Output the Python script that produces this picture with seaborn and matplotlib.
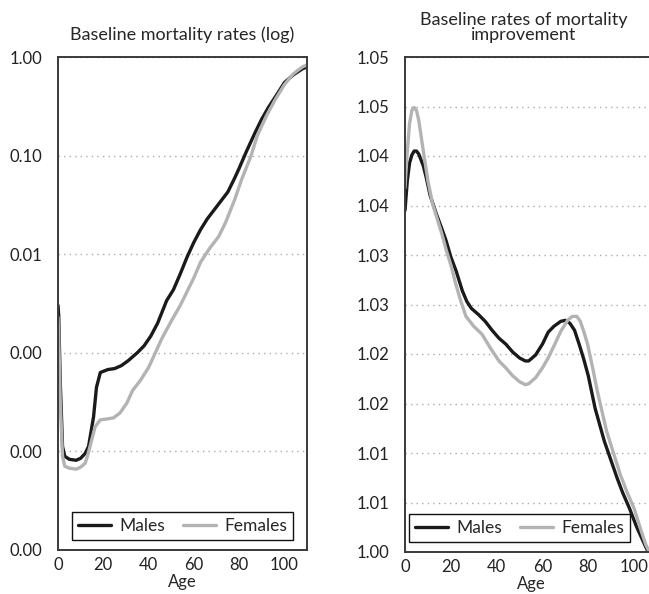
import numpy as np
import pandas as pd
import matplotlib
matplotlib.use("Agg")
import matplotlib.pyplot as plt
from matplotlib.ticker import FuncFormatter, NullLocator
import seaborn as sns

# --- data ---
# left panel: baseline mortality rates (stored as log10 of the rate)
age_m_log = [0, 0.3, 1, 2, 3, 5, 8, 10, 12, 13.5, 15.7, 17, 18.7, 22, 25, 28, 31, 35, 38, 41, 44,
             48, 51, 54, 57, 60, 63, 66, 69, 72, 75, 78, 80, 83, 87, 90, 93, 97, 100, 104, 108, 110]
males_log10 = [-2.52, -2.62, -3.3, -3.95, -4.05, -4.08, -4.09, -4.07, -4.02, -3.95, -3.65, -3.35,
               -3.2, -3.17, -3.16, -3.13, -3.08, -3.0, -2.93, -2.83, -2.70, -2.47, -2.36, -2.2,
               -2.03, -1.88, -1.75, -1.64, -1.55, -1.46, -1.37, -1.23, -1.13, -0.97, -0.77, -0.63,
               -0.51, -0.37, -0.26, -0.18, -0.12, -0.10]

age_f_log = [0, 0.3, 1, 2, 3, 5, 8, 10, 12, 13, 16.4, 18.7, 22, 24.5, 27.4, 30.4, 33, 36.4, 40, 43,
             46, 50, 54, 57, 60, 63, 67, 71, 74, 78, 81, 85.3, 88, 92, 96, 100, 104, 108, 110]
females_log10 = [-2.64, -2.8, -3.5, -4.05, -4.15, -4.17, -4.18, -4.16, -4.12, -4.05, -3.75, -3.68,
                 -3.67, -3.66, -3.61, -3.51, -3.38, -3.28, -3.15, -3.0, -2.85, -2.68, -2.52, -2.38,
                 -2.24, -2.08, -1.94, -1.82, -1.68, -1.45, -1.25, -1.0, -0.8, -0.6, -0.43, -0.28,
                 -0.17, -0.10, -0.08]

# right panel: baseline rates of mortality improvement
age_m_imp = [0, 1, 2, 3, 4, 5, 6, 8, 9.3, 11, 13.6, 16, 18, 20, 22.3, 25, 27, 29, 32, 35, 38, 41,
             44, 47, 50, 52.5, 54, 57, 60, 62.5, 65, 68, 70, 72, 74, 76, 78, 80, 83, 87, 90, 92.7,
             95, 98, 101, 104.7, 107, 110]
males_imp = [1.0345, 1.0375, 1.0393, 1.0401, 1.0405, 1.0405, 1.0402, 1.0390, 1.0378, 1.0360,
             1.0342, 1.0327, 1.0314, 1.0298, 1.0284, 1.0264, 1.0253, 1.0246, 1.0240, 1.0233,
             1.0224, 1.0216, 1.0210, 1.0202, 1.0196, 1.0193, 1.0193, 1.0199, 1.0210, 1.0222,
             1.0228, 1.0233, 1.0234, 1.0231, 1.0224, 1.0210, 1.0195, 1.0178, 1.0145, 1.0112,
             1.0092, 1.0074, 1.0060, 1.0044, 1.0026, 1.0007, 0.9996, 0.9980]

age_f_imp = [0, 1, 2, 3, 4, 5, 6, 8, 10, 12, 13.6, 16, 18, 20, 22, 24, 26.6, 30, 33.6, 37, 41, 44,
             47, 50, 52.5, 54, 57, 60, 62.5, 65, 68, 71, 73, 75, 76.5, 78, 79.7, 82, 84, 86, 88,
             91, 94, 97, 100, 103, 105, 107, 110]
females_imp = [1.0368, 1.0405, 1.0433, 1.0446, 1.0449, 1.0446, 1.0436, 1.0405, 1.0375, 1.0352,
               1.0340, 1.0322, 1.0305, 1.0290, 1.0272, 1.0256, 1.0238, 1.0228, 1.0220, 1.0207,
               1.0193, 1.0186, 1.0178, 1.0172, 1.0169, 1.0170, 1.0176, 1.0186, 1.0196, 1.0208,
               1.0223, 1.0234, 1.0238, 1.0238, 1.0233, 1.0223, 1.0210, 1.0185, 1.0162, 1.0142,
               1.0122, 1.0100, 1.0078, 1.0060, 1.0044, 1.0022, 1.0008, 0.9998, 0.9980]

x_ticks = [0, 20, 40, 60, 80, 100]
log_ticks = [1e-5, 1e-4, 1e-3, 1e-2, 1e-1, 1.0]
imp_ticks = [1.000, 1.005, 1.010, 1.015, 1.020, 1.025, 1.030, 1.035, 1.040, 1.045, 1.050]

sns.set_style("white")
plt.rcParams['font.family'] = ['Lato', 'DejaVu Sans']
plt.rcParams['font.size'] = 12

colors = {'Males': '#1a1a1a', 'Females': '#b3b3b3'}


def two_dp(v, pos=None):
    # half-up rounding like a spreadsheet (1.045 -> 1.05)
    return f"{np.floor(float(v) * 100 + 0.5 + 1e-6) / 100:.2f}"


def long_frame(ages_m, vals_m, ages_f, vals_f):
    m = pd.DataFrame({'Age': ages_m, 'value': vals_m, 'Sex': 'Males'})
    f = pd.DataFrame({'Age': ages_f, 'value': vals_f, 'Sex': 'Females'})
    return pd.concat([m, f], ignore_index=True)


df_log = long_frame(age_m_log, 10 ** np.array(males_log10), age_f_log, 10 ** np.array(females_log10))
df_imp = long_frame(age_m_imp, males_imp, age_f_imp, females_imp)

fig = plt.figure(figsize=(6.49, 5.94), dpi=100)
ax1 = fig.add_axes([58 / 649, 44 / 594, 249 / 649, 493 / 594])
ax2 = fig.add_axes([405 / 649, 42 / 594, 252 / 649, 495 / 594])


def style_axis(ax, legend_x=0.5):
    for s in ax.spines.values():
        s.set_color('#3a3a3a')
        s.set_linewidth(1.4)
    ax.tick_params(axis='y', length=0, labelsize=12, colors='#222222', pad=11)
    ax.tick_params(axis='x', length=0, labelsize=12, colors='#222222', pad=5)
    ax.set_xlim(0, 110)
    ax.set_xticks(x_ticks)
    ax.yaxis.grid(True, linestyle=(0, (1, 3)), color='#aaaaaa', linewidth=1)
    ax.xaxis.grid(False)
    ax.set_xlabel('Age', fontsize=12, labelpad=0.5)
    ax.set_ylabel('')
    leg = ax.legend(loc='lower center', bbox_to_anchor=(legend_x, 0.0), ncol=2, frameon=True,
                    fancybox=False, framealpha=1, edgecolor='#111111', handlelength=1.9,
                    handletextpad=0.5, columnspacing=1.0, borderaxespad=0.55, fontsize=12.5,
                    borderpad=0.35)
    leg.get_frame().set_linewidth(1.0)


# left: log mortality rates
sns.lineplot(data=df_log, x='Age', y='value', hue='Sex', palette=colors, linewidth=2.4, ax=ax1)
ax1.set_yscale('log')
ax1.set_ylim(1e-5, 1.0)
ax1.set_yticks(log_ticks)
ax1.yaxis.set_minor_locator(NullLocator())
ax1.yaxis.set_major_formatter(FuncFormatter(two_dp))
ax1.set_title('Baseline mortality rates (log)', fontsize=13, pad=12)
style_axis(ax1)

# right: improvement rates
sns.lineplot(data=df_imp, x='Age', y='value', hue='Sex', palette=colors, linewidth=2.4, ax=ax2)
ax2.set_ylim(1.0, 1.05)
ax2.set_yticks(imp_ticks)
ax2.yaxis.set_major_formatter(FuncFormatter(two_dp))
ax2.set_title('Baseline rates of mortality\nimprovement', fontsize=13, pad=12,
              linespacing=0.95, x=0.47)
style_axis(ax2, legend_x=0.455)

fig.savefig('out.png', dpi=100)
